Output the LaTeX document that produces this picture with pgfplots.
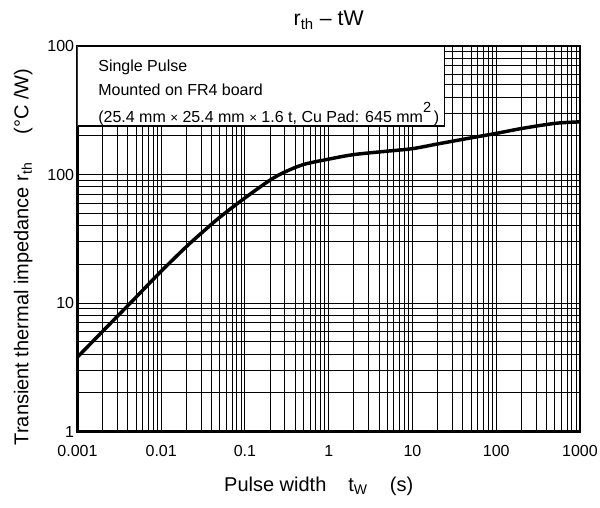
\documentclass[border=0pt]{standalone}
\usepackage{pgfplots}
\pgfplotsset{compat=1.18}
\usepackage{fontspec}
\setmainfont{Liberation Sans}

% transient thermal impedance
\pgfplotstableread{
tw     rth
0.001  3.8
0.002  6.03
0.003  7.9
0.005  11.1
0.01   17.7
0.02   27.5
0.03   34.9
0.05   46.5
0.1    65.8
0.2    90.6
0.3    104.7
0.5    119.7
1      131.8
2      143
5      152
10     159
20     173
50     193
100    209
200    228
500    250
1000   257
}\rthdata

\begin{document}
\begin{tikzpicture}
\path[use as bounding box] (-58.1pt,-56.6pt) rectangle (391.9pt,323.7pt);
\begin{axis}[
  scale only axis,
  width=376.9pt, height=289.2pt,
  xmode=log, ymode=log,
  xmin=0.001, xmax=1000, ymin=1, ymax=1000,
  xtick={0.001,0.01,0.1,1,10,100,1000},
  xticklabels={0.001,0.01,0.1,1,10,100,1000},
  ytick={1,10,100,1000},
  yticklabels={1,10,100,100},
  grid=both,
  major grid style={black, line width=0.75pt},
  minor grid style={black, line width=0.75pt},
  axis line style={line width=1.7pt},
  tick style={draw=none},
  ticklabel style={font=\fontsize{12}{14}\selectfont},
  xticklabel style={yshift=-7pt},
  yticklabel style={xshift=1pt},
  xlabel={Pulse width\hspace{1.1em}t\textsubscript{W}\hspace{1.1em}(s)},
  xlabel style={at={(axis description cs:0.48,-0.142)}, anchor=center,
    font=\fontsize{15}{18}\selectfont},
  ylabel={Transient thermal impedance r\textsubscript{th}\hspace{1.4em}(°C /W)},
  ylabel style={at={(axis description cs:-0.108,0.453)}, anchor=center,
    font=\fontsize{15}{18}\selectfont},
  title={r\textsubscript{th} – tW},
  title style={at={(axis description cs:0.5,1.046)}, anchor=center, yshift=0pt,
    font=\fontsize{16}{19}\selectfont},
]
\addplot[black, line width=2.6pt, smooth] table[x=tw, y=rth] {\rthdata};

\draw[black, line width=0.8pt, fill=white] (rel axis cs:0,1) rectangle (rel axis cs:0.7313,0.7925);
\node[anchor=west, inner sep=0pt, font=\fontsize{12}{14}\selectfont] at (rel axis cs:0.041,0.9455) {Single Pulse};
\node[anchor=west, inner sep=0pt, font=\fontsize{12}{14}\selectfont] at (rel axis cs:0.041,0.8856) {Mounted on FR4 board};
\node[anchor=west, inner sep=0pt, font=\fontsize{12}{14}\selectfont] at (rel axis cs:0.041,0.8234)
  {(25.4 mm\ {\fontsize{10}{10}\selectfont ×}\ 25.4 mm\ {\fontsize{10}{10}\selectfont ×}\ 1.6 t, Cu Pad: 645 mm\raisebox{1.2ex}{\fontsize{11}{11}\selectfont 2}\,)};
\end{axis}
\end{tikzpicture}
\end{document}
